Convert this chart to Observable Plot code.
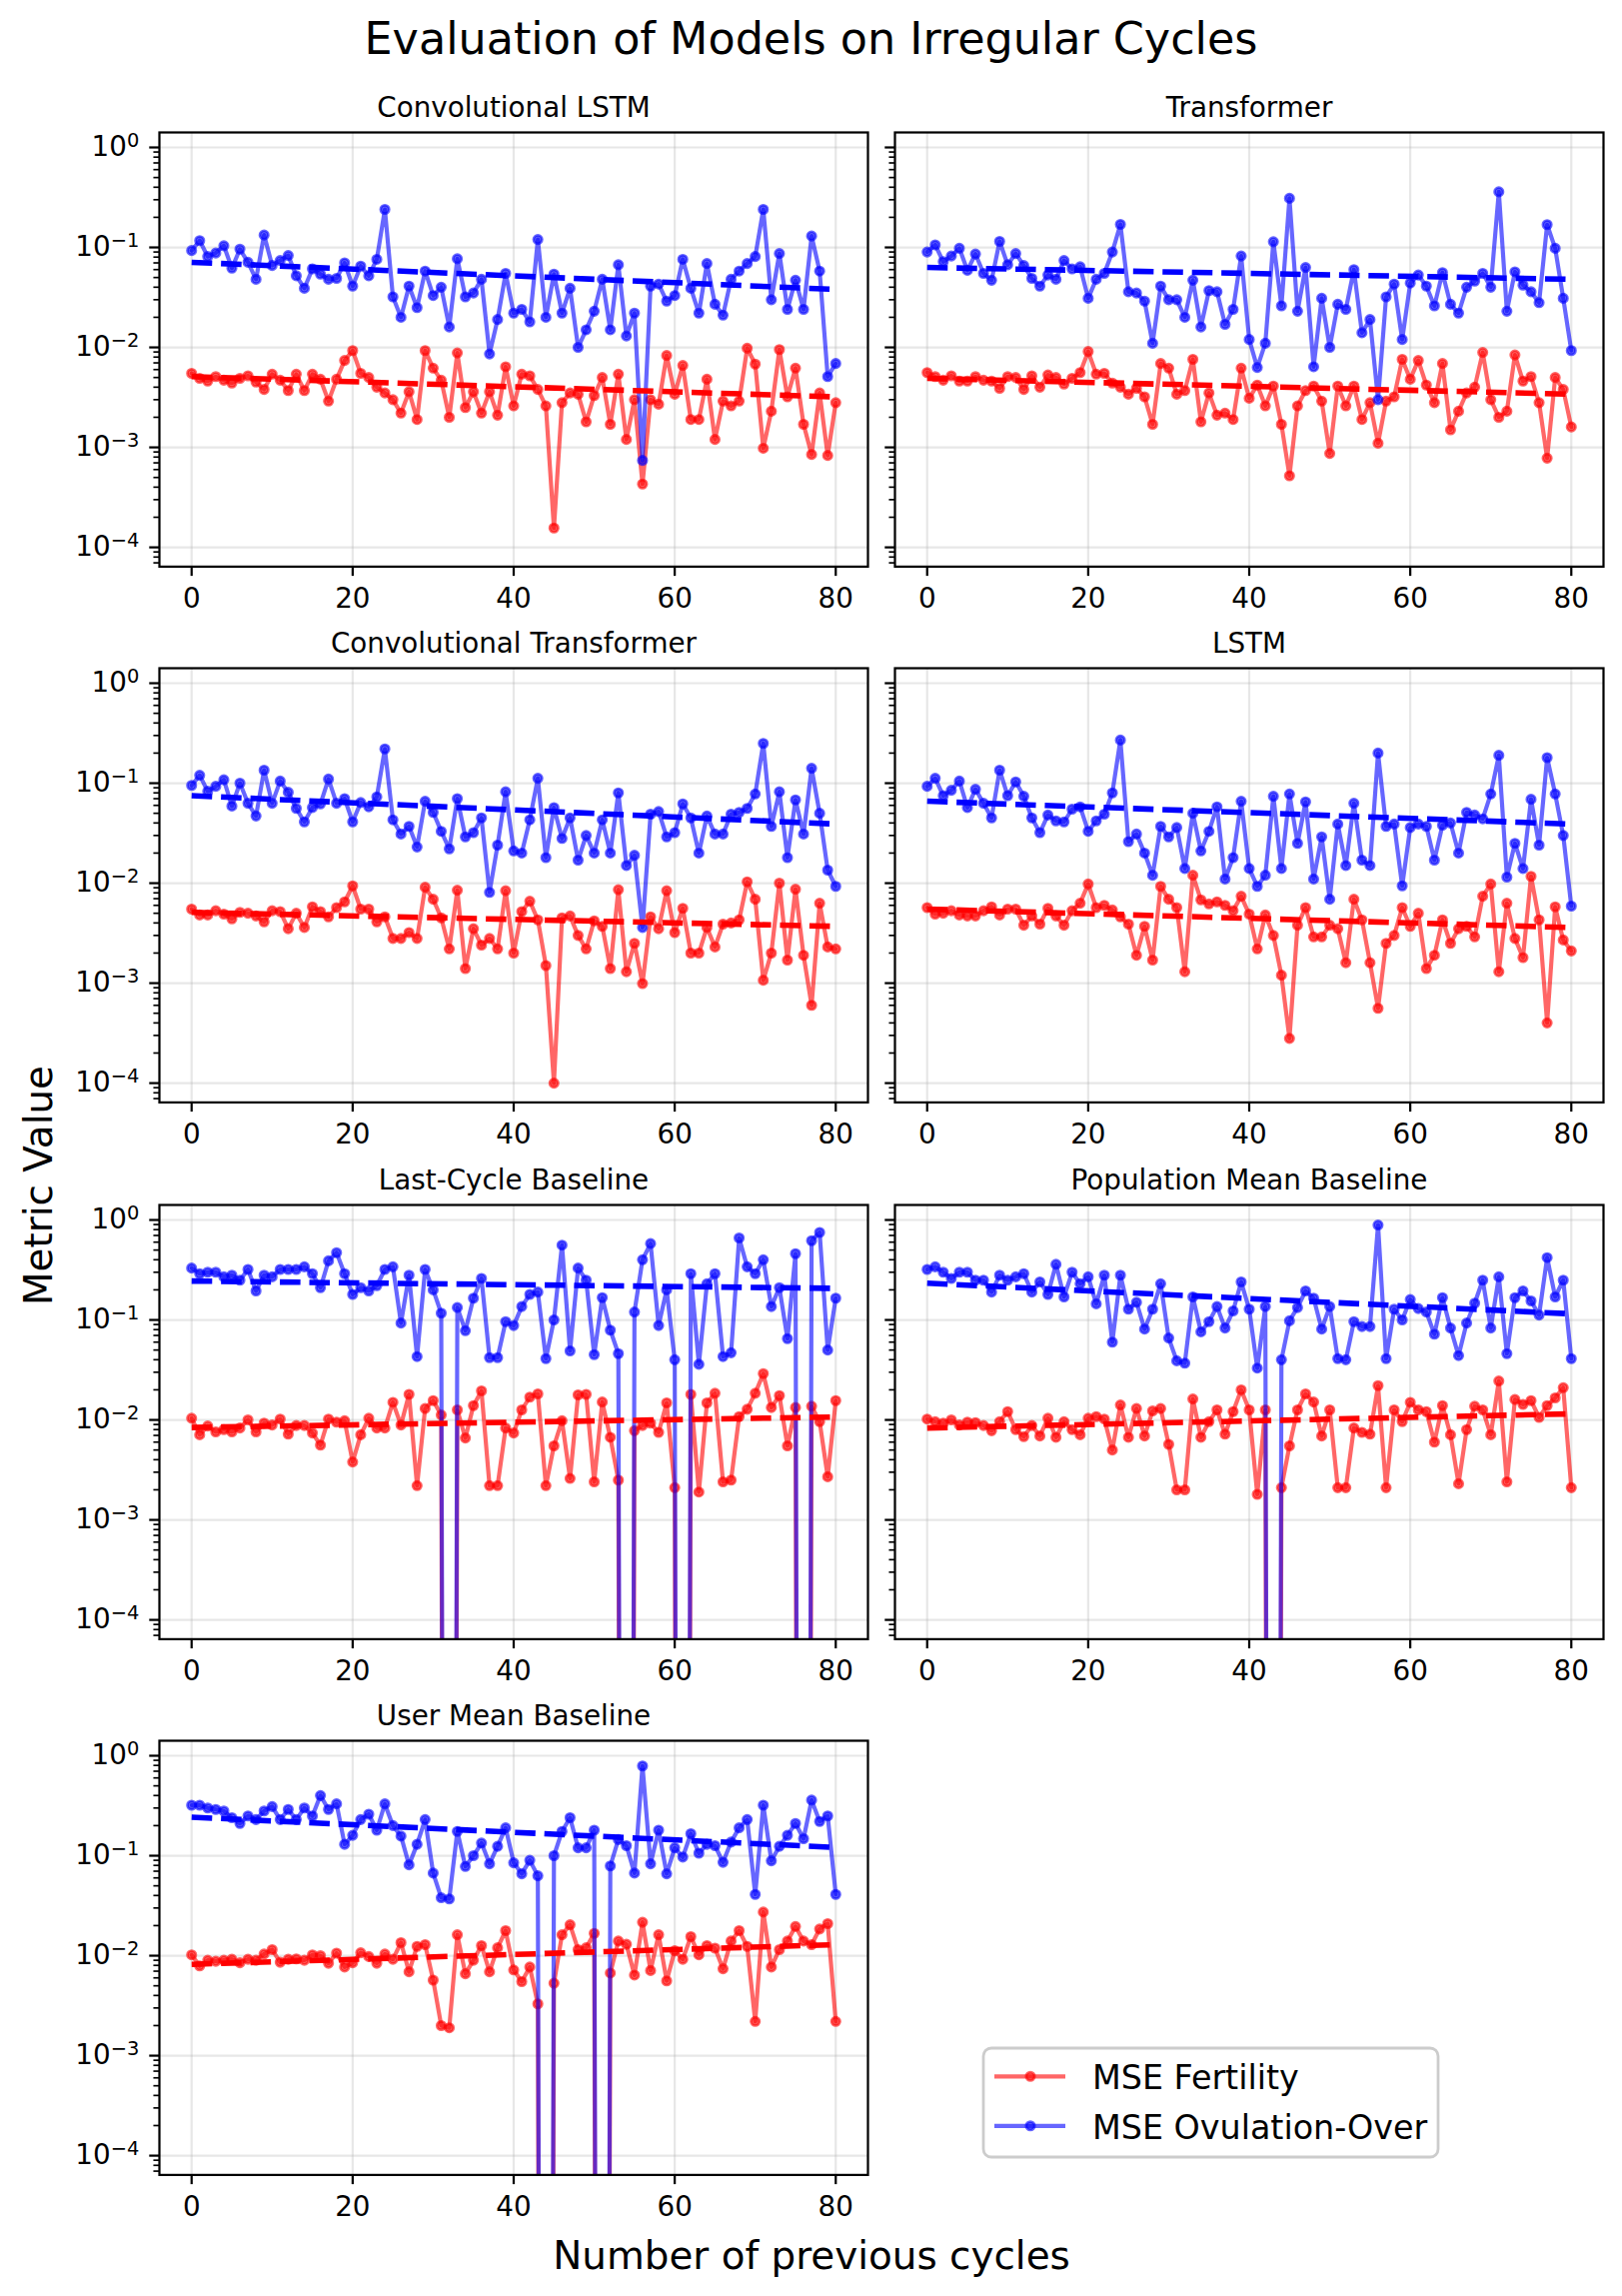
<!DOCTYPE html>
<html><head><meta charset="utf-8">
<script src="https://cdn.jsdelivr.net/npm/d3@7"></script>
<script src="https://cdn.jsdelivr.net/npm/@observablehq/plot@0.6"></script>
<style>
body{margin:0;background:#fff;}
#fig{position:relative;width:1623px;height:2297px;background:#fff;font-family:"DejaVu Sans",sans-serif;overflow:hidden;}
#fig > svg{position:absolute;}
</style></head><body><div id="fig"></div>
<script>
// ---------------- data ----------------
const figTitle = "Evaluation of Models on Irregular Cycles";
const xLabel = "Number of previous cycles";
const yLabel = "Metric Value";
const seriesNames = ["MSE Fertility", "MSE Ovulation-Over"];
const seriesColors = ["red", "blue"];
const models = ["Convolutional LSTM", "Transformer", "Convolutional Transformer", "LSTM",
  "Last-Cycle Baseline", "Population Mean Baseline", "User Mean Baseline"];
const cycles = Array.from({length: 81}, (_, i) => i);
const xTickValues = [0, 20, 40, 60, 80];
const yTickValues = [1, 0.1, 0.01, 0.001, 0.0001];
const yTickExponents = ["0", "\u22121", "\u22122", "\u22123", "\u22124"];

const fertConvLSTM = [0.0055,0.0049,0.0046,0.0051,0.0047,0.0044,0.0049,0.0052,0.0045,0.0038,
0.0054,0.0047,0.0037,0.0054,0.0037,0.0054,0.0048,0.0029,0.0048,0.0074,
0.0093,0.0055,0.0050,0.0040,0.0035,0.0030,0.0022,0.0036,0.0019,0.0093,
0.0062,0.0047,0.0020,0.0088,0.0025,0.0036,0.0022,0.0036,0.0021,0.0064,
0.0026,0.0054,0.0052,0.0038,0.0026,0.000156,0.0028,0.0035,0.0034,0.0018,
0.0033,0.0050,0.0017,0.0054,0.0012,0.0030,0.00043,0.0030,0.0027,0.0083,
0.0034,0.0066,0.0019,0.0019,0.0048,0.0012,0.0029,0.0026,0.0029,0.0098,
0.0068,0.00098,0.0023,0.0095,0.0032,0.0062,0.0017,0.00085,0.0035,0.00083,
0.0028];
const ovuConvLSTM = [0.093,0.117,0.081,0.088,0.104,0.062,0.096,0.071,0.048,0.133,
0.066,0.074,0.083,0.052,0.039,0.061,0.054,0.048,0.049,0.070,
0.041,0.065,0.052,0.076,0.24,0.032,0.020,0.041,0.025,0.058,
0.033,0.040,0.016,0.077,0.032,0.035,0.048,0.0086,0.019,0.055,
0.022,0.024,0.018,0.12,0.020,0.054,0.022,0.039,0.010,0.015,
0.023,0.048,0.015,0.067,0.013,0.022,0.00074,0.041,0.043,0.029,
0.033,0.076,0.039,0.022,0.069,0.027,0.021,0.048,0.058,0.069,
0.081,0.24,0.030,0.087,0.024,0.047,0.024,0.13,0.058,0.0051,
0.0069];

const fertTransformer = [0.0056,0.0051,0.0047,0.0052,0.0046,0.0046,0.0051,0.0047,0.0046,0.0039,
0.0051,0.0050,0.0038,0.0052,0.0040,0.0053,0.0050,0.0043,0.0049,0.0056,
0.0091,0.0054,0.0055,0.0044,0.0040,0.0034,0.0039,0.0032,0.0017,0.0069,
0.0062,0.0034,0.0037,0.0076,0.0018,0.0035,0.0021,0.0022,0.0019,0.0062,
0.0031,0.0042,0.0026,0.0041,0.0017,0.00052,0.0026,0.0037,0.0041,0.0029,
0.00087,0.0041,0.0026,0.0041,0.0019,0.0028,0.0011,0.0029,0.0032,0.0076,
0.0048,0.0074,0.0042,0.0028,0.0069,0.0015,0.0023,0.0035,0.0040,0.0089,
0.0030,0.0020,0.0023,0.0084,0.0046,0.0051,0.0028,0.00078,0.0050,0.0038,
0.0016];
const ovuTransformer = [0.090,0.106,0.072,0.082,0.098,0.059,0.086,0.055,0.047,0.115,
0.067,0.087,0.066,0.049,0.041,0.053,0.048,0.074,0.061,0.064,
0.031,0.048,0.055,0.090,0.17,0.036,0.035,0.029,0.011,0.041,
0.030,0.030,0.020,0.047,0.016,0.037,0.036,0.017,0.024,0.082,
0.012,0.0063,0.011,0.114,0.026,0.31,0.023,0.063,0.0064,0.031,
0.010,0.027,0.024,0.060,0.014,0.019,0.0030,0.032,0.043,0.012,
0.044,0.053,0.041,0.026,0.056,0.027,0.022,0.040,0.046,0.055,
0.040,0.36,0.023,0.057,0.042,0.036,0.028,0.169,0.098,0.031,
0.0093];

const fertConvTransformer = [0.0055,0.0048,0.0048,0.0053,0.0049,0.0044,0.0051,0.0050,0.0047,0.0041,
0.0053,0.0052,0.0035,0.0050,0.0036,0.0058,0.0052,0.0046,0.0057,0.0065,
0.0094,0.0055,0.0055,0.0041,0.0046,0.0028,0.0028,0.0032,0.0028,0.0091,
0.0069,0.0045,0.0022,0.0085,0.0014,0.0035,0.0024,0.0028,0.0022,0.0084,
0.0020,0.0052,0.0066,0.0043,0.0015,0.00010,0.0045,0.0047,0.0030,0.0022,
0.0042,0.0037,0.0014,0.0086,0.0013,0.0025,0.00099,0.0046,0.0035,0.0084,
0.0032,0.0056,0.0020,0.0020,0.0036,0.0023,0.0039,0.0040,0.0043,0.0103,
0.0069,0.00107,0.0020,0.0100,0.0017,0.0087,0.0019,0.0006,0.0063,0.0023,
0.0022];
const ovuConvTransformer = [0.095,0.12,0.083,0.093,0.108,0.059,0.10,0.063,0.047,0.135,
0.063,0.105,0.081,0.056,0.041,0.057,0.062,0.11,0.063,0.070,
0.041,0.064,0.058,0.073,0.22,0.043,0.031,0.037,0.023,0.066,
0.051,0.033,0.022,0.070,0.029,0.032,0.045,0.0081,0.024,0.082,
0.021,0.020,0.043,0.112,0.018,0.057,0.028,0.045,0.017,0.030,
0.020,0.043,0.020,0.080,0.015,0.019,0.0036,0.049,0.052,0.029,
0.032,0.062,0.045,0.020,0.047,0.031,0.031,0.049,0.051,0.056,
0.078,0.25,0.037,0.082,0.018,0.068,0.031,0.141,0.050,0.0135,
0.0093];

const fertLSTM = [0.0057,0.0049,0.0050,0.0053,0.0048,0.0047,0.0047,0.0053,0.0058,0.0048,
0.0055,0.0055,0.0038,0.0047,0.0039,0.0056,0.0047,0.0038,0.0053,0.0063,
0.0098,0.0057,0.0060,0.0054,0.0046,0.0039,0.0019,0.0037,0.0017,0.0093,
0.0069,0.0057,0.0013,0.012,0.0068,0.0062,0.0065,0.0060,0.0053,0.0074,
0.0049,0.0022,0.0048,0.0030,0.0012,0.00028,0.0038,0.0057,0.0029,0.0029,
0.0038,0.0035,0.0016,0.0069,0.0043,0.0016,0.00056,0.0025,0.0030,0.0057,
0.0037,0.0050,0.0014,0.0019,0.0043,0.0025,0.0035,0.0037,0.0029,0.0074,
0.0098,0.0013,0.0063,0.0028,0.0018,0.0117,0.0043,0.0004,0.0058,0.0027,
0.0021];
const ovuLSTM = [0.093,0.112,0.075,0.085,0.105,0.057,0.087,0.063,0.045,0.135,
0.075,0.103,0.074,0.045,0.032,0.048,0.042,0.041,0.055,0.058,
0.033,0.042,0.049,0.080,0.27,0.026,0.031,0.020,0.012,0.037,
0.029,0.036,0.014,0.050,0.021,0.033,0.058,0.011,0.018,0.066,
0.014,0.0093,0.012,0.074,0.014,0.078,0.025,0.065,0.011,0.029,
0.0069,0.039,0.015,0.063,0.017,0.015,0.20,0.037,0.039,0.0094,
0.036,0.039,0.037,0.017,0.038,0.040,0.020,0.051,0.048,0.044,
0.078,0.19,0.0115,0.025,0.014,0.069,0.024,0.18,0.078,0.030,
0.0059];

const fertLastCycle = [0.0104,0.0071,0.0087,0.0076,0.0080,0.0076,0.0083,0.0100,0.0076,0.0093,
0.0089,0.0102,0.0072,0.0088,0.0088,0.0074,0.0056,0.0102,0.0095,0.0098,
0.0038,0.0071,0.0104,0.0083,0.0083,0.015,0.0089,0.018,0.0022,0.013,
0.0156,0.0112,0,0.0126,0.0066,0.0139,0.0195,0.0022,0.0022,0.0083,
0.0074,0.0126,0.0169,0.0182,0.0022,0.0055,0.0098,0.0026,0.0178,0.018,
0.0024,0.0151,0.0067,0.0025,0,0.0078,0.0088,0.0093,0.0075,0.0148,
0.0021,0,0.018,0.0019,0.0148,0.0185,0.0024,0.0025,0.0108,0.0128,
0.0185,0.029,0.0133,0.0175,0.0055,0.0133,0,0.0137,0.0096,0.0027,
0.0156];
const ovuLastCycle = [0.33,0.29,0.30,0.30,0.27,0.28,0.25,0.32,0.195,0.28,
0.27,0.32,0.32,0.32,0.34,0.29,0.21,0.39,0.47,0.29,
0.18,0.21,0.195,0.22,0.32,0.34,0.093,0.28,0.043,0.32,
0.20,0.117,0,0.133,0.078,0.165,0.26,0.042,0.042,0.096,
0.088,0.136,0.18,0.19,0.041,0.10,0.56,0.049,0.33,0.25,
0.045,0.167,0.079,0.046,0,0.12,0.40,0.58,0.088,0.20,
0.040,0,0.29,0.036,0.23,0.29,0.043,0.047,0.66,0.34,
0.29,0.40,0.136,0.21,0.065,0.46,0,0.62,0.75,0.050,
0.165];

const fertPopMean = [0.0102,0.0096,0.0093,0.0100,0.0089,0.0095,0.0094,0.0088,0.0078,0.0096,
0.0121,0.0080,0.0068,0.0088,0.0069,0.0104,0.0067,0.0096,0.0080,0.0071,
0.0104,0.0108,0.0102,0.0050,0.0141,0.0067,0.0130,0.0069,0.0123,0.0130,
0.0057,0.0020,0.0020,0.0162,0.0067,0.0096,0.0126,0.0072,0.0121,0.020,
0.0126,0.0018,0.0126,0,0.0021,0.0055,0.0126,0.0182,0.0151,0.0069,
0.0126,0.0021,0.0021,0.0083,0.0075,0.0072,0.022,0.0021,0.0126,0.0096,
0.015,0.0126,0.0121,0.0060,0.0139,0.0071,0.0023,0.0080,0.0137,0.0126,
0.0071,0.0245,0.0024,0.016,0.0143,0.0156,0.0106,0.0139,0.0166,0.021,
0.0021];
const ovuPopMean = [0.32,0.34,0.30,0.26,0.30,0.30,0.25,0.25,0.19,0.28,
0.25,0.27,0.29,0.19,0.24,0.18,0.36,0.17,0.30,0.23,
0.27,0.145,0.28,0.060,0.28,0.128,0.15,0.081,0.128,0.23,
0.066,0.039,0.037,0.17,0.076,0.096,0.136,0.083,0.123,0.24,
0.128,0.033,0.136,0,0.040,0.098,0.133,0.195,0.165,0.081,
0.136,0.041,0.040,0.096,0.086,0.086,0.89,0.041,0.128,0.10,
0.16,0.13,0.12,0.072,0.167,0.083,0.044,0.093,0.147,0.25,
0.083,0.27,0.046,0.167,0.195,0.155,0.112,0.42,0.17,0.25,
0.041];

const fertUserMean = [0.0102,0.0079,0.0090,0.0088,0.0090,0.0092,0.0085,0.0092,0.0090,0.0104,
0.0115,0.0086,0.0092,0.0093,0.0090,0.0102,0.0100,0.0084,0.0106,0.0077,
0.0085,0.0107,0.0098,0.0084,0.0104,0.0092,0.0135,0.0069,0.0124,0.0129,
0.0057,0.0020,0.0019,0.0162,0.0066,0.0090,0.0126,0.0069,0.0120,0.0178,
0.0072,0.0055,0.0077,0.0033,0,0.0053,0.0162,0.0204,0.0115,0.0120,
0.0167,0,0.0067,0.0140,0.0130,0.0064,0.0216,0.0071,0.0162,0.0056,
0.0112,0.0092,0.0155,0.0102,0.0126,0.0119,0.0074,0.0140,0.0178,0.0124,
0.0022,0.0273,0.0077,0.0115,0.0140,0.0196,0.0140,0.0129,0.0185,0.0209,
0.0022];
const ovuUserMean = [0.32,0.32,0.30,0.29,0.28,0.24,0.21,0.25,0.23,0.28,
0.31,0.23,0.29,0.23,0.30,0.25,0.40,0.29,0.33,0.13,
0.16,0.23,0.26,0.18,0.33,0.20,0.157,0.081,0.13,0.23,
0.067,0.038,0.037,0.175,0.078,0.10,0.134,0.083,0.124,0.19,
0.085,0.066,0.09,0.063,0,0.10,0.175,0.24,0.12,0.12,
0.18,0,0.079,0.145,0.126,0.067,0.79,0.083,0.18,0.066,
0.12,0.097,0.166,0.106,0.13,0.126,0.086,0.137,0.19,0.23,
0.041,0.32,0.089,0.124,0.16,0.21,0.148,0.36,0.22,0.25,
0.041];

// trend line values at cycle 0 and cycle 80
const trendFertStart = [0.0051, 0.0049, 0.0051, 0.0055, 0.0084, 0.0083, 0.0082];
const trendFertEnd   = [0.0032, 0.0034, 0.0037, 0.0036, 0.0107, 0.0115, 0.0129];
const trendOvuStart  = [0.071, 0.063, 0.075, 0.066, 0.245, 0.233, 0.243];
const trendOvuEnd    = [0.038, 0.048, 0.039, 0.039, 0.207, 0.115, 0.121];

const fertility = [fertConvLSTM, fertTransformer, fertConvTransformer, fertLSTM, fertLastCycle, fertPopMean, fertUserMean];
const ovulation = [ovuConvLSTM, ovuTransformer, ovuConvTransformer, ovuLSTM, ovuLastCycle, ovuPopMean, ovuUserMean];

// ---------------- layout ----------------
const DPI = 200 / 72;
const FW = 709, FH = 434.4;
const frameLefts = [158.7, 894.7];
const frameTops = [131.7, 668.3, 1204.7, 1741.0];
const yDomain = [Math.pow(10, -4.193), Math.pow(10, 0.15)];
const xDomain = [-4, 84];
const minorTicks = [];
for (let e = -5; e <= 0; e++) for (let m = 2; m <= 9; m++) {
  const v = m * Math.pow(10, e);
  if (v >= yDomain[0] && v <= yDomain[1]) minorTicks.push(v);
}
const FS = 10 * DPI;       // tick / subplot title font
const gridStyle = {stroke: "#b0b0b0", strokeOpacity: 0.3, strokeWidth: 0.8 * DPI};
const fig = document.getElementById("fig");

function rowsOf(arr) {
  return arr.map((v, i) => ({x: cycles[i], y: v > 0 ? v : 1e-30}));
}

function panel(k) {
  const col = k % 2, row = Math.floor(k / 2);
  const ML = col === 0 ? 160 : 20, MR = 20, MT = 70, MB = 80;
  const red = rowsOf(fertility[k]);
  const blue = rowsOf(ovulation[k]);
  const tRed = [{x: 0, y: trendFertStart[k]}, {x: 80, y: trendFertEnd[k]}];
  const tBlue = [{x: 0, y: trendOvuStart[k]}, {x: 80, y: trendOvuEnd[k]}];
  const dataLine = (c) => ({x: "x", y: "y", stroke: c, strokeOpacity: 0.6, strokeWidth: 1.5 * DPI, clip: true});
  const dataDot = (c) => ({x: "x", y: "y", r: 1.5 * DPI, fill: c, fillOpacity: 0.6, stroke: c, strokeOpacity: 0.6, strokeWidth: 1 * DPI, clip: true});
  const trend = (c) => ({x: "x", y: "y", stroke: c, strokeWidth: 2 * DPI, strokeDasharray: `${3.7 * 2 * DPI},${1.6 * 2 * DPI}`, strokeLinecap: "butt"});
  const svg = Plot.plot({
    width: ML + FW + MR, height: MT + FH + MB,
    marginLeft: ML, marginRight: MR, marginTop: MT, marginBottom: MB,
    style: {fontFamily: "DejaVu Sans", fontSize: FS + "px", background: "transparent", overflow: "visible"},
    x: {domain: xDomain},
    y: {type: "log", domain: yDomain},
    marks: [
      Plot.gridX(xTickValues, gridStyle),
      Plot.gridY(yTickValues, gridStyle),
      Plot.line(red, dataLine("red")),
      Plot.dot(red, dataDot("red")),
      Plot.line(blue, dataLine("blue")),
      Plot.dot(blue, dataDot("blue")),
      Plot.line(tRed, trend("red")),
      Plot.line(tBlue, trend("blue")),
      Plot.frame({stroke: "black", strokeWidth: 0.8 * DPI}),
      Plot.axisX(xTickValues, {tickSize: 3.5 * DPI, tickPadding: 12, strokeWidth: 0.8 * DPI, fontSize: FS, label: null, fill: "black"}),
      Plot.axisY(yTickValues, {tickSize: 3.5 * DPI, tickPadding: 10.5, strokeWidth: 0.8 * DPI, fontSize: FS, label: null, fill: "black",
        tickFormat: col === 0 ? (d) => "10^" + yTickExponents[yTickValues.indexOf(d)] : () => ""}),
      Plot.axisY(minorTicks, {tickSize: 2 * DPI, strokeWidth: 0.6 * DPI, label: null, tickFormat: () => ""}),
      Plot.text([models[k]], {frameAnchor: "top", lineAnchor: "top", dy: -35.2, fontSize: FS, fill: "black"})
    ]
  });
  svg.style.left = (frameLefts[col] - ML) + "px";
  svg.style.top = (frameTops[row] - MT) + "px";
  d3.select(svg).selectAll("text").each(function () {
    const t = d3.select(this);
    const s = t.text();
    if (s.indexOf("^") < 0) return;
    const [b, e] = s.split("^");
    t.text(b);
    t.append("tspan").attr("dy", -9.3).attr("font-size", 0.7 * FS).text(e);
  });
  fig.appendChild(svg);
}

for (let k = 0; k < models.length; k++) panel(k);

// ---------------- figure texts and legend ----------------
const ov = d3.select(fig).append("svg")
  .attr("width", 1623).attr("height", 2297)
  .style("left", "0px").style("top", "0px")
  .attr("font-family", "DejaVu Sans");
ov.append("text").attr("x", 811.5).attr("y", 54).attr("text-anchor", "middle")
  .attr("font-size", 16 * DPI).text(figTitle);
ov.append("text").attr("transform", "translate(52,1186) rotate(-90)").attr("text-anchor", "middle")
  .attr("font-size", 14 * DPI).text(yLabel);
ov.append("text").attr("x", 812).attr("y", 2270).attr("text-anchor", "middle")
  .attr("font-size", 14 * DPI).text(xLabel);

const lg = ov.append("g");
lg.append("rect").attr("x", 984).attr("y", 2049).attr("width", 455).attr("height", 109).attr("rx", 8)
  .attr("fill", "white").attr("fill-opacity", 0.8).attr("stroke", "#cccccc").attr("stroke-width", 1 * DPI);
seriesNames.forEach((name, i) => {
  const y = 2077.3 + i * 49.5;
  const c = seriesColors[i];
  lg.append("line").attr("x1", 995).attr("x2", 1066).attr("y1", y).attr("y2", y)
    .attr("stroke", c).attr("stroke-opacity", 0.6).attr("stroke-width", 1.5 * DPI);
  lg.append("circle").attr("cx", 1031).attr("cy", y).attr("r", 1.5 * DPI)
    .attr("fill", c).attr("fill-opacity", 0.6).attr("stroke", c).attr("stroke-opacity", 0.6).attr("stroke-width", 1 * DPI);
  lg.append("text").attr("x", 1093).attr("y", y + 12.7).attr("font-size", 12 * DPI).text(name);
});
</script></body></html>
